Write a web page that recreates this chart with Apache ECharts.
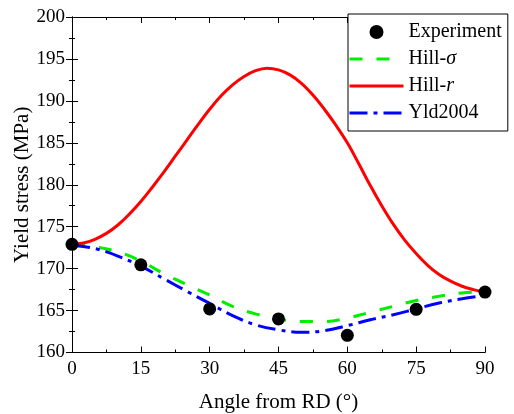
<!DOCTYPE html>
<html>
<head>
<meta charset="utf-8">
<script src="https://cdn.jsdelivr.net/npm/echarts@6/dist/echarts.min.js"></script>
<style>html,body{margin:0;padding:0;background:#fff}#c{width:514px;height:414px}</style>
</head>
<body>
<div id="c"></div>
<script>
const angles = [0,5,10,15,20,25,30,35,40,45,50,55,60,65,70,75,80,85,90];
const rAngles = [0,2.5,5,7.5,10,12.5,15,17.5,20,22.5,25,27.5,30,32.5,35,37.5,40,42.5,45,47.5,50,52.5,55,57.5,60,62.5,65,67.5,70,72.5,75,77.5,80,82.5,85,87.5,90];
const expAngles = [0,15,30,45,60,75,90];
const experiment = [172.9,170.45,165.2,164.0,162.05,165.15,167.2];
const hillSigma = [172.9,172.6,172.0,170.9,169.4,168.1,166.85,165.5,164.6,164.0,163.7,163.7,164.1,164.8,165.5,166.2,166.7,167.1,167.2];
const hillR = [172.9,173.05,173.5,174.2,175.2,176.5,178.0,179.7,181.5,183.4,185.3,187.2,189.0,190.6,191.9,192.9,193.6,193.9,193.7,193.1,192.1,190.7,189.0,187.1,185.0,182.5,179.9,177.5,175.3,173.4,171.8,170.4,169.3,168.5,167.9,167.5,167.2];
const yld2004 = [172.8,172.4,171.5,170.3,168.8,167.3,165.85,164.4,163.3,162.7,162.4,162.6,163.2,163.9,164.5,165.2,165.9,166.4,166.8];
const xTicks = [0,15,30,45,60,75,90];
const yTicks = [160,165,170,175,180,185,190,195,200];

const pair = (xs, ys) => xs.map((x, i) => [x, ys[i]]);
const font = '"Liberation Serif", "Times New Roman", serif';
const chart = echarts.init(document.getElementById('c'));
const axisCommon = {
  axisLine: {show: true, lineStyle: {color: '#000', width: 1}},
  axisTick: {show: true, inside: true, length: 6, lineStyle: {color: '#000'}},
  minorTick: {show: true, splitNumber: 2, length: 3, lineStyle: {color: '#000'}},
  splitLine: {show: false}
};
const hidden = {color: 'rgba(0,0,0,0)', borderColor: 'rgba(0,0,0,0)', borderWidth: 0, opacity: 0};
chart.setOption({
  animation: false,
  textStyle: {fontFamily: font},
  grid: {left: 72, right: 29, top: 17, bottom: 61.5, containLabel: false, outerBoundsMode: 'none'},
  xAxis: [
    Object.assign({type: 'value', min: xTicks[0], max: xTicks[xTicks.length-1], interval: 15,
      name: 'Angle from RD (°)', nameLocation: 'middle', nameGap: 39, nameMoveOverlap: false,
      nameTextStyle: {fontSize: 21, color: '#000', fontFamily: font},
      axisLabel: {fontSize: 19, color: '#000', margin: 7, fontFamily: font}}, axisCommon),
    Object.assign({type: 'value', position: 'top', min: 0, max: 90, interval: 15,
      axisLabel: {show: false}}, axisCommon)
  ],
  yAxis: [
    Object.assign({type: 'value', min: yTicks[0], max: yTicks[yTicks.length-1], interval: 5,
      name: 'Yield stress (MPa)', nameLocation: 'middle', nameGap: 39, nameRotate: 90, nameMoveOverlap: false,
      nameTextStyle: {fontSize: 21, color: '#000', fontFamily: font},
      axisLabel: {fontSize: 19, color: '#000', margin: 7, fontFamily: font}}, axisCommon),
    Object.assign({type: 'value', position: 'right', min: 160, max: 200, interval: 5,
      axisLabel: {show: false}}, axisCommon)
  ],
  legend: {
    orient: 'vertical', left: 348, top: 14, width: 165,
    backgroundColor: '#fff', borderColor: '#000', borderWidth: 1, borderRadius: 0,
    padding: [8, 6, 8, 0], itemGap: 7, itemWidth: 54, itemHeight: 14,
    lineStyle: {width: 3},
    textStyle: {fontSize: 20, color: '#000', fontFamily: font,
      rich: {i: {fontStyle: 'italic', fontSize: 20, fontFamily: font, color: '#000'}}},
    formatter: function (n) {
      if (n === 'Hill-σ') return 'Hill-{i|σ}';
      if (n === 'Hill-r') return 'Hill-{i|r}';
      return n;
    },
    data: [
      {name: 'Experiment'},
      {name: 'Hill-σ', itemStyle: hidden},
      {name: 'Hill-r', itemStyle: hidden},
      {name: 'Yld2004', itemStyle: hidden}
    ]
  },
  series: [
    {name: 'Hill-σ', type: 'line', data: pair(angles, hillSigma), smooth: 0.4, symbol: 'none',
      lineStyle: {color: '#00ee00', width: 3, type: [13, 14]}, itemStyle: {color: '#00ee00'}, z: 3},
    {name: 'Hill-r', type: 'line', data: pair(rAngles, hillR), smooth: 0.4, symbol: 'none',
      lineStyle: {color: '#ff0000', width: 3, type: 'solid'}, itemStyle: {color: '#ff0000'}, z: 3},
    {name: 'Yld2004', type: 'line', data: pair(angles, yld2004), smooth: 0.4, symbol: 'none',
      lineStyle: {color: '#0000ff', width: 3, type: [18, 6, 4, 6]}, itemStyle: {color: '#0000ff'}, z: 4},
    {name: 'Experiment', type: 'scatter', data: pair(expAngles, experiment), symbol: 'circle', symbolSize: 13,
      itemStyle: {color: '#000', opacity: 1}, z: 5}
  ]
});
</script>
</body>
</html>
